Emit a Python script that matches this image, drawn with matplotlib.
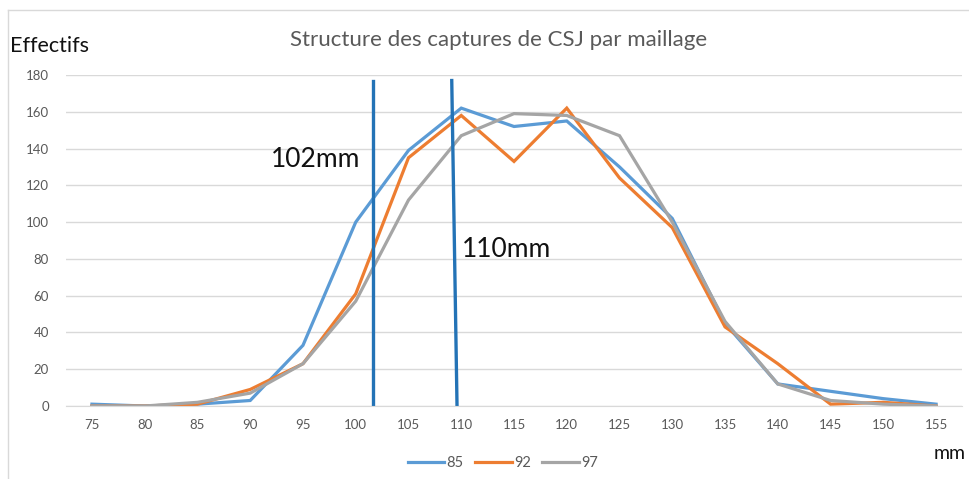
import numpy as np
import matplotlib
matplotlib.use("Agg")
import matplotlib.pyplot as plt
from matplotlib.lines import Line2D

# tailles (mm) et effectifs par maillage
sizes = [75, 80, 85, 90, 95, 100, 105, 110, 115, 120, 125, 130, 135, 140, 145, 150, 155]
eff_85 = [1, 0, 1, 3, 33, 100, 139, 162, 152, 155, 130, 102, 45, 12, 8, 4, 1]
eff_92 = [0, 0, 1, 9, 23, 61, 135, 158, 133, 162, 124, 97, 43, 23, 1, 2, 0]
eff_97 = [0, 0, 2, 7, 23, 57, 112, 147, 159, 158, 147, 100, 46, 12, 3, 1, 0]
series_names = ["85", "92", "97"]
y_ticks = list(range(0, 200, 20))

# traits verticaux (x haut, x bas) et leurs étiquettes
cut_102 = [(101.6, 177), (101.6, 0)]
cut_110 = [(109.1, 177), (109.6, 0)]

plt.rcParams['font.family'] = ['Lato', 'DejaVu Sans']

fig = plt.figure(figsize=(9.70, 4.79), dpi=100)
ax = fig.add_axes([0.0676, 0.1524, 0.9246, 0.691])

colors = ["#5B9BD5", "#ED7D31", "#A5A5A5"]
for vals, name, c in zip([eff_85, eff_92, eff_97], series_names, colors):
    ax.plot(sizes, vals, color=c, lw=2.3, label=name, solid_joinstyle="miter")

for seg in (cut_102, cut_110):
    xs, ys = zip(*seg)
    ax.plot(xs, ys, color="#2473B6", lw=2.4)

ax.text(92.0, 134, "102mm", fontsize=19, color="#111111", va="center")
ax.text(110.1, 85, "110mm", fontsize=19, color="#111111", va="center")

ax.set_xlim(72.5, 157.5)
ax.set_ylim(0, 180)
ax.set_xticks(sizes)
ax.set_yticks(y_ticks)
ax.tick_params(length=0, labelsize=9.5, labelcolor="#595959")
ax.tick_params(axis="x", pad=9)
ax.tick_params(axis="y", pad=12)
ax.grid(axis="y", color="#d9d9d9", lw=1)
ax.set_axisbelow(True)
for s in ["top", "right", "left"]:
    ax.spines[s].set_visible(False)
ax.spines["bottom"].set_color("#d9d9d9")

fig.text(0.5135, 0.916, "Structure des captures de CSJ par maillage",
         fontsize=16, color="#595959", ha="center", va="center")
fig.text(0.010, 0.905, "Effectifs", fontsize=15.5, color="#111111", va="center")
fig.text(0.979, 0.054, "mm", fontsize=14, color="#111111", ha="center", va="center")

leg = ax.legend(loc="center", bbox_to_anchor=(0.4876, -0.172), ncol=3, frameon=False,
                fontsize=10.5, handlelength=2.5, handletextpad=0.15, columnspacing=0.8)
for t in leg.get_texts():
    t.set_color("#595959")

# cadre du graphique
fig.add_artist(Line2D([0.008, 1.0], [0.979, 0.979], color="#d9d9d9", lw=1))
fig.add_artist(Line2D([0.008, 0.008], [0.0, 0.979], color="#d9d9d9", lw=1))

fig.savefig("out.png", dpi=100, facecolor="white")
